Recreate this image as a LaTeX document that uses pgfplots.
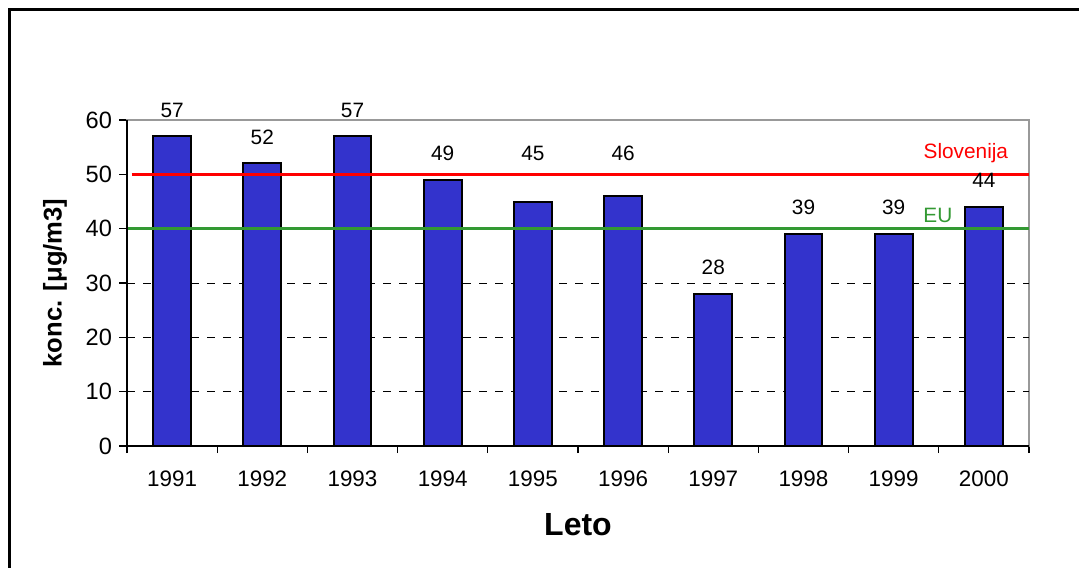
\documentclass[border=0pt]{standalone}
\usepackage{fontspec}
\setmainfont{Liberation Sans}
\usepackage{pgfplots}
\pgfplotsset{compat=1.18}
\definecolor{barblue}{HTML}{3333CC}
\definecolor{limred}{HTML}{FF0000}
\definecolor{limgreen}{HTML}{339933}
\begin{document}
\begin{tikzpicture}
\useasboundingbox (0,0) rectangle (539.5pt,283.5pt);
% outer frame, cut by the page on the right and at the bottom
\draw[line width=1.6pt] (4.75pt,-5pt) -- (4.75pt,278.75pt) -- (545pt,278.75pt);
\begin{axis}[
    at={(63.5pt,60.5pt)}, anchor=south west,
    scale only axis, width=451pt, height=163pt,
    xmin=1990.5, xmax=2000.5, ymin=0, ymax=60,
    ytick={0,10,...,60},
    xtick={1991,...,2000},
    minor xtick={1990.5,1991.5,...,2000.5},
    major x tick style={draw=none},
    minor tick length=3.5pt, major tick length=4pt,
    tick align=outside, tick pos=left,
    tick style={black, line width=0.6pt},
    axis line style={gray!80, line width=1pt},
    xticklabel style={font=\fontsize{11.2}{13}\selectfont, yshift=-5pt},
    yticklabel style={font=\fontsize{11.8}{14}\selectfont},
    /pgf/number format/1000 sep={},
    /pgf/number format/assume math mode=true,
    extra y ticks={10,20,30},
    extra y tick labels={},
    extra y tick style={ymajorgrids=true, major tick length=0pt},
    grid style={black, line width=0.5pt, dash pattern=on 4pt off 4pt},
    xlabel={\textbf{Leto}},
    xlabel style={font=\fontsize{16}{18}\selectfont, at={(axis description cs:0.5,-0.242)}, anchor=center},
    ylabel={\textbf{konc. [μg/m3]}},
    ylabel style={font=\fontsize{12.8}{15}\selectfont, at={(axis description cs:-0.0798,0.5)}, anchor=center},
    clip=false,
]
% third column: extra lift of the value label, in pt
\addplot[ybar, bar width=0.42, fill=barblue, draw=black, line width=1pt,
    nodes near coords,
    visualization depends on={\thisrow{lift} \as \lift},
    every node near coord/.append style={font=\fontsize{10.4}{12}\selectfont, black, anchor=south, inner sep=0pt, yshift=9pt+\lift pt}]
  table[x=year, y=conc] {
year conc lift
1991 57 0
1992 52 0
1993 57 0
1994 49 0
1995 45 11
1996 46 8
1997 28 0
1998 39 0
1999 39 0
2000 44 0
};
\addplot[limred, line width=1.8pt] coordinates {(1990.55,50)(2000.5,50)};
\addplot[limgreen, line width=1.6pt] coordinates {(1990.5,40)(2000.5,40)};
\node[limred, font=\fontsize{10.4}{12}\selectfont] at (axis cs:1999.80,53.9) {Slovenija};
\node[limgreen, font=\fontsize{10.4}{12}\selectfont] at (axis cs:1999.49,42.5) {EU};
\draw[black, line width=1pt] (rel axis cs:0,1) -- (rel axis cs:0,0) -- (rel axis cs:1,0);
\end{axis}
\end{tikzpicture}
\end{document}
